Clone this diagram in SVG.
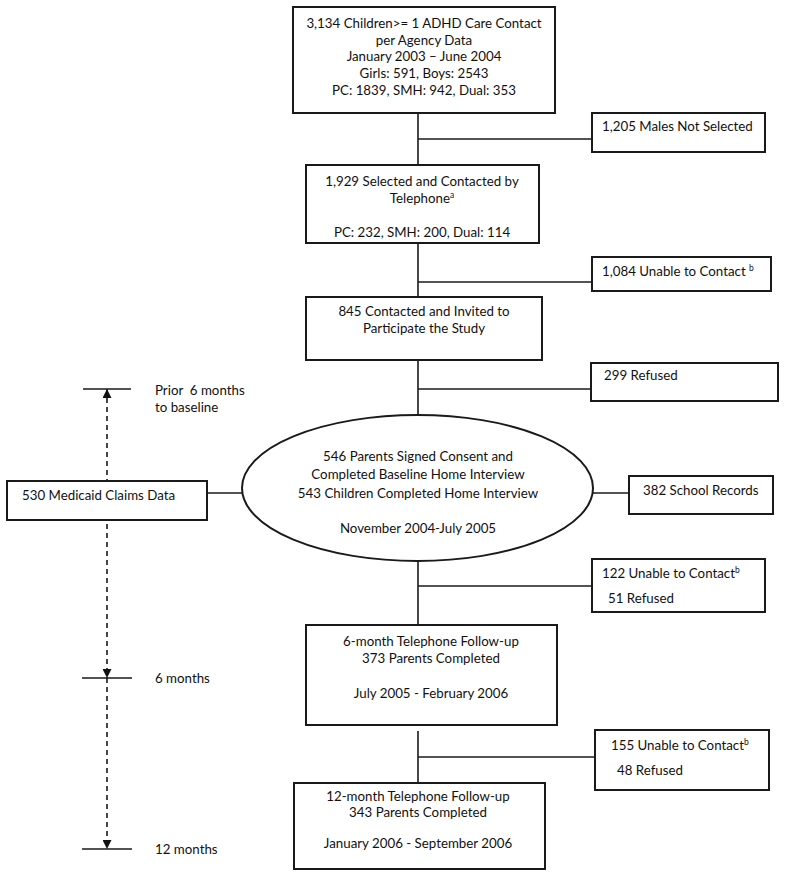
<svg xmlns="http://www.w3.org/2000/svg" width="800" height="877" viewBox="0 0 800 877">
<style>
  .box { fill: #fff; stroke: #1a1a1a; stroke-width: 2; }
  .ln { stroke: #1a1a1a; stroke-width: 1.6; fill: none; }
  .dash { stroke: #1a1a1a; stroke-width: 1.6; fill: none; stroke-dasharray: 5 4; }
  text { font-family: Lato, "Liberation Sans", sans-serif; font-size: 13.3px; fill: #111; white-space: pre; }
  .c { text-anchor: middle; }
  .sup { font-size: 8.5px; }
</style>
<defs>
  <marker id="ah" viewBox="0 0 10 10" refX="10" refY="5" markerWidth="9" markerHeight="9" markerUnits="userSpaceOnUse" orient="auto-start-reverse">
    <path d="M0,0 L10,5 L0,10 z" fill="#111"/>
  </marker>
</defs>
<rect width="800" height="877" fill="#fff"/>

<g id="connectors">
  <line class="ln" x1="418" y1="113" x2="418" y2="165"/>
  <line class="ln" x1="418" y1="139" x2="592" y2="139"/>
  <line class="ln" x1="418" y1="243" x2="418" y2="297"/>
  <line class="ln" x1="418" y1="282" x2="592" y2="282"/>
  <line class="ln" x1="418" y1="360" x2="418" y2="416"/>
  <line class="ln" x1="418" y1="389" x2="591" y2="389"/>
  <line class="ln" x1="418" y1="560" x2="418" y2="625"/>
  <line class="ln" x1="418" y1="586" x2="592" y2="586"/>
  <line class="ln" x1="418" y1="731" x2="418" y2="783"/>
  <line class="ln" x1="418" y1="757" x2="595" y2="757"/>
  <line class="ln" x1="207" y1="493" x2="243" y2="493"/>
  <line class="ln" x1="592" y1="493" x2="629" y2="493"/>
  <!-- timeline -->
  <line class="dash" x1="107" y1="389" x2="107" y2="678" marker-start="url(#ah)" marker-end="url(#ah)"/>
  <line class="dash" x1="107" y1="678" x2="107" y2="849" marker-end="url(#ah)"/>
  <line class="ln" x1="83" y1="389" x2="131" y2="389"/>
  <line class="ln" x1="82" y1="678" x2="132" y2="678"/>
  <line class="ln" x1="82" y1="849" x2="132" y2="849"/>
</g>

<g id="n-top">
  <rect class="box" x="293" y="7" width="262" height="106"/>
  <text class="c" x="424" y="28">3,134 Children&gt;= 1 ADHD Care Contact</text>
  <text class="c" x="424" y="45">per Agency Data</text>
  <text class="c" x="424" y="61">January 2003 – June 2004</text>
  <text class="c" x="424" y="78">Girls: 591, Boys: 2543</text>
  <text class="c" x="424" y="95">PC: 1839, SMH: 942, Dual: 353</text>
</g>

<g id="n-males">
  <rect class="box" x="592" y="113" width="173" height="39"/>
  <text x="602" y="131">1,205 Males Not Selected</text>
</g>

<g id="n-selected">
  <rect class="box" x="306" y="165" width="233" height="78"/>
  <text class="c" x="422" y="186">1,929 Selected and Contacted by</text>
  <text class="c" x="422" y="203">Telephone<tspan class="sup" dy="-5">a</tspan></text>
  <text class="c" x="422" y="237">PC: 232, SMH: 200, Dual: 114</text>
</g>

<g id="n-unable1">
  <rect class="box" x="592" y="257" width="179" height="34"/>
  <text x="602" y="276">1,084 Unable to Contact <tspan class="sup" dy="-5">b</tspan></text>
</g>

<g id="n-contacted">
  <rect class="box" x="306" y="297" width="236" height="63"/>
  <text class="c" x="424" y="316">845 Contacted and Invited to</text>
  <text class="c" x="424" y="333">Participate the Study</text>
</g>

<g id="n-refused">
  <rect class="box" x="591" y="363" width="187" height="38"/>
  <text x="604" y="380">299 Refused</text>
</g>

<g id="n-baseline">
  <ellipse class="box" cx="417.5" cy="488" rx="175.5" ry="73"/>
  <text class="c" x="418" y="461">546 Parents Signed Consent and</text>
  <text class="c" x="418" y="479">Completed Baseline Home Interview</text>
  <text class="c" x="418" y="498">543 Children Completed Home Interview</text>
  <text class="c" x="418" y="533">November 2004-July 2005</text>
</g>

<g id="n-medicaid">
  <rect class="box" x="7" y="481" width="200" height="39"/>
  <text x="22" y="500">530 Medicaid Claims Data</text>
</g>

<g id="n-school">
  <rect class="box" x="629" y="476" width="144" height="38"/>
  <text x="643" y="495">382 School Records</text>
</g>

<g id="n-unable2">
  <rect class="box" x="592" y="559" width="173" height="53"/>
  <text x="602" y="578">122 Unable to Contact<tspan class="sup" dy="-5">b</tspan></text>
  <text x="608" y="603">51 Refused</text>
</g>

<g id="n-6month">
  <rect class="box" x="306" y="625" width="251" height="100"/>
  <text class="c" x="431" y="646">6-month Telephone Follow-up</text>
  <text class="c" x="431" y="663">373 Parents Completed</text>
  <text class="c" x="431" y="698">July 2005 - February 2006</text>
</g>

<g id="n-unable3">
  <rect class="box" x="595" y="730" width="174" height="60"/>
  <text x="611" y="750">155 Unable to Contact<tspan class="sup" dy="-5">b</tspan></text>
  <text x="617" y="775">48 Refused</text>
</g>

<g id="n-12month">
  <rect class="box" x="294" y="783" width="251" height="86"/>
  <text class="c" x="418" y="801">12-month Telephone Follow-up</text>
  <text class="c" x="418" y="817">343 Parents Completed</text>
  <text class="c" x="418" y="848">January 2006 - September 2006</text>
</g>

<g id="timeline-labels">
  <text x="155" y="395">Prior  6 months</text>
  <text x="155" y="412">to baseline</text>
  <text x="155" y="683">6 months</text>
  <text x="155" y="854">12 months</text>
</g>
</svg>
